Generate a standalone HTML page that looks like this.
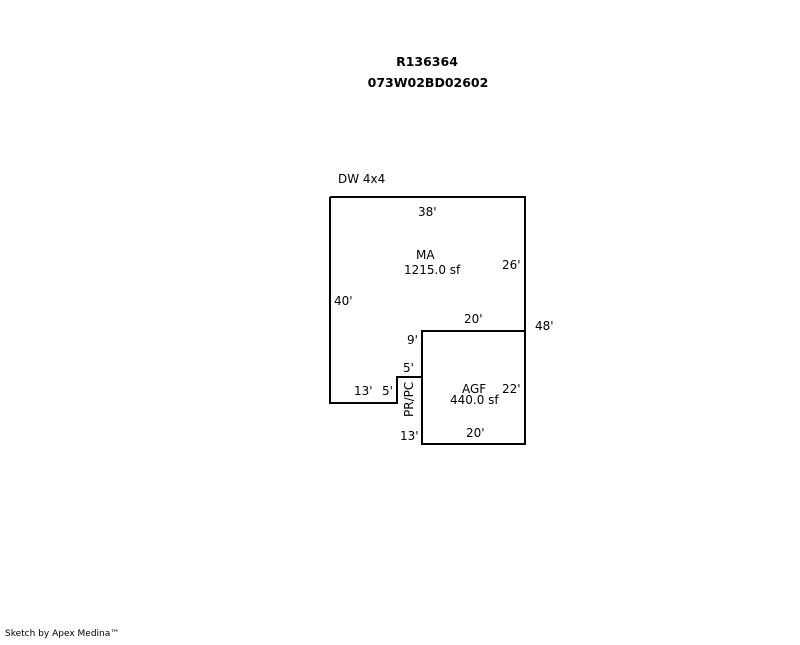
<!DOCTYPE html><html><head><style>body{margin:0;background:#fff}</style></head><body>
<svg width="800" height="640" xmlns="http://www.w3.org/2000/svg" font-family="DejaVu Sans, Liberation Sans, sans-serif" font-size="12" fill="#000">
<text x="427" y="66" text-anchor="middle" font-weight="bold" font-size="12.5">R136364</text>
<text x="428" y="87" text-anchor="middle" font-weight="bold" font-size="12.5">073W02BD02602</text>
<text x="338" y="183">DW 4x4</text>
<g fill="none" stroke="#000" stroke-width="2">
<polyline points="330,197 525,197 525,331 422,331 422,377 397,377 397,403 330,403 330,197"/>
<rect x="422" y="331" width="103" height="113"/>
</g>
<text x="418" y="216">38'</text>
<text x="416" y="259">MA</text>
<text x="404" y="274">1215.0 sf</text>
<text x="502" y="269">26'</text>
<text x="334" y="305">40'</text>
<text x="535" y="330">48'</text>
<text x="464" y="323">20'</text>
<text x="407" y="344">9'</text>
<text x="403" y="372">5'</text>
<text x="354" y="395">13'</text>
<text x="382" y="395">5'</text>
<text x="462" y="393">AGF</text>
<text x="450" y="404">440.0 sf</text>
<text x="502" y="393">22'</text>
<text x="400" y="440">13'</text>
<text x="466" y="437">20'</text>
<text transform="translate(413,417) rotate(-90)">PR/PC</text>
<text x="5" y="636" font-size="9">Sketch by Apex Medina™</text>
</svg>
</body></html>
